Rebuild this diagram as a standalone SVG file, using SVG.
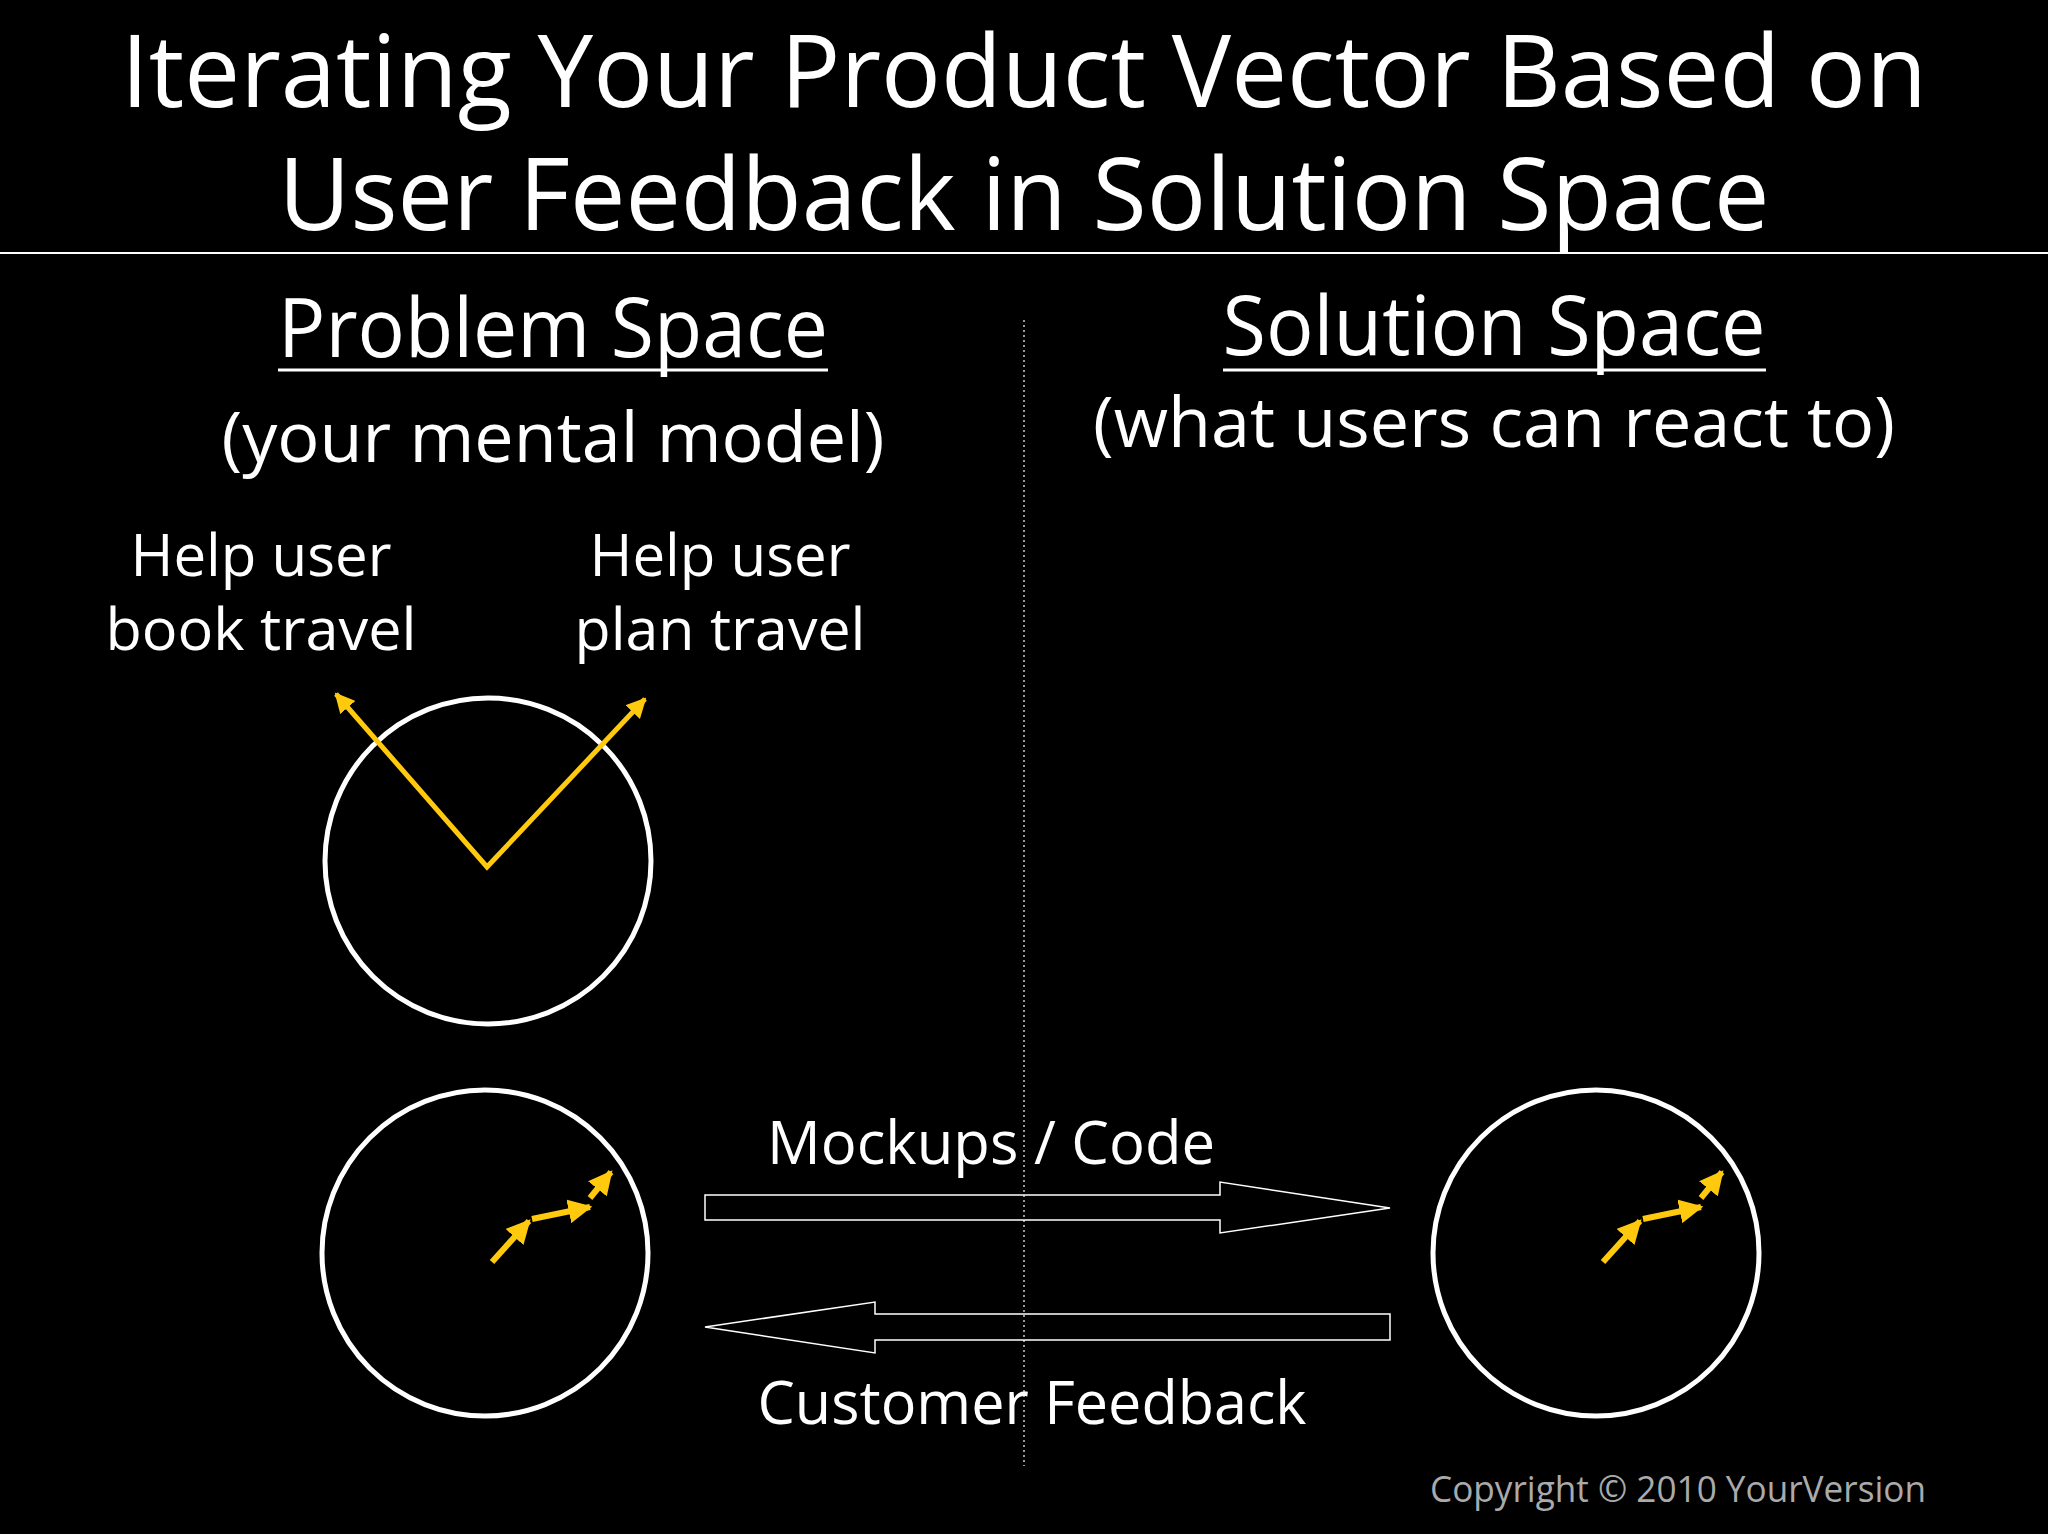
<svg xmlns="http://www.w3.org/2000/svg" width="2048" height="1534" viewBox="0 0 2048 1534">
<style>
text{font-family:"Open Sans","Liberation Sans",sans-serif;fill:#fff;text-anchor:middle}
.c{fill:none;stroke:#fff;stroke-width:5}
.y{stroke:#FFC90E;stroke-width:5;fill:none}
.ys{stroke:#FFC90E;stroke-width:6;fill:none}
.h{fill:none;stroke:#fff;stroke-width:1.5}
</style>
<defs>
<marker id="ah" viewBox="0 0 10 10" refX="9" refY="5" markerWidth="4" markerHeight="4" orient="auto-start-reverse" markerUnits="strokeWidth"><path d="M0,0L10,5L0,10z" fill="#FFC90E"/></marker>
</defs>
<rect width="2048" height="1534" fill="#000"/>
<g id="title">
<text x="1024" y="107" font-size="100" textLength="1806" lengthAdjust="spacingAndGlyphs">Iterating Your Product Vector Based on</text>
<text x="1024" y="230" font-size="100" textLength="1491" lengthAdjust="spacingAndGlyphs">User Feedback in Solution Space</text>
<line x1="0" y1="253" x2="2048" y2="253" stroke="#fff" stroke-width="2"/>
</g>
<g id="headers">
<text x="553" y="357" font-size="82" textLength="550" lengthAdjust="spacingAndGlyphs">Problem Space</text>
<line x1="278" y1="370" x2="828" y2="370" stroke="#fff" stroke-width="3"/>
<text x="553" y="462" font-size="70" textLength="663" lengthAdjust="spacingAndGlyphs">(your mental model)</text>
<text x="1494" y="355" font-size="82" textLength="543" lengthAdjust="spacingAndGlyphs">Solution Space</text>
<line x1="1223" y1="370" x2="1766" y2="370" stroke="#fff" stroke-width="3"/>
<text x="1494" y="447" font-size="70" textLength="802" lengthAdjust="spacingAndGlyphs">(what users can react to)</text>
</g>
<g id="divider"><line x1="1024" y1="320" x2="1024" y2="1466" stroke="#ccc" stroke-width="1.5" stroke-dasharray="2,3"/></g>
<g id="labels">
<text x="261" y="576" font-size="58" textLength="261" lengthAdjust="spacingAndGlyphs">Help user</text>
<text x="261" y="650" font-size="58" textLength="311" lengthAdjust="spacingAndGlyphs">book travel</text>
<text x="720" y="576" font-size="58" textLength="261" lengthAdjust="spacingAndGlyphs">Help user</text>
<text x="720" y="650" font-size="58" textLength="291" lengthAdjust="spacingAndGlyphs">plan travel</text>
</g>
<g id="mentalModel">
<circle class="c" cx="488" cy="861" r="163"/>
<polyline class="y" points="336,694 487,867 645,699" marker-start="url(#ah)" marker-end="url(#ah)"/>
</g>
<g id="iterLeft">
<circle class="c" cx="485" cy="1253" r="163"/>
<line class="ys" x1="492" y1="1262" x2="529" y2="1221" marker-end="url(#ah)"/>
<line class="ys" x1="532" y1="1219" x2="590" y2="1207" marker-end="url(#ah)"/>
<line class="ys" x1="590" y1="1198" x2="611" y2="1172" marker-end="url(#ah)"/>
</g>
<g id="iterRight">
<circle class="c" cx="1596" cy="1253" r="163"/>
<line class="ys" x1="1603" y1="1262" x2="1640" y2="1221" marker-end="url(#ah)"/>
<line class="ys" x1="1643" y1="1219" x2="1701" y2="1207" marker-end="url(#ah)"/>
<line class="ys" x1="1701" y1="1198" x2="1722" y2="1172" marker-end="url(#ah)"/>
</g>
<g id="connectors">
<path class="h" d="M705,1195H1220V1182L1390,1208L1220,1233V1220H705Z"/>
<path class="h" d="M705,1327L875,1302V1314H1390V1340H875V1353Z"/>
<text x="991" y="1164" font-size="60" textLength="448" lengthAdjust="spacingAndGlyphs">Mockups / Code</text>
<text x="1032" y="1424" font-size="60" textLength="549" lengthAdjust="spacingAndGlyphs">Customer Feedback</text>
</g>
<text x="1678" y="1502" font-size="36" style="fill:#aaa" textLength="496" lengthAdjust="spacingAndGlyphs">Copyright © 2010 YourVersion</text>
</svg>
